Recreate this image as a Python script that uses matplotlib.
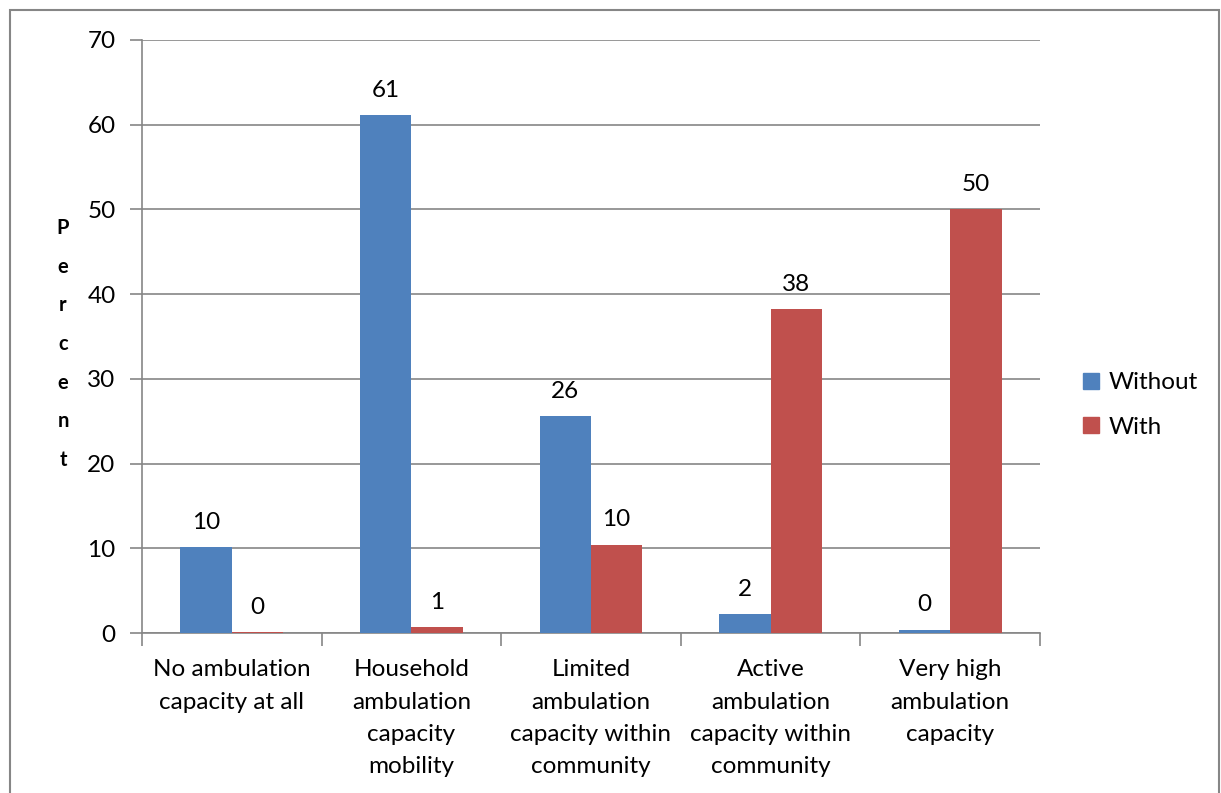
import numpy as np
import matplotlib.pyplot as plt
from matplotlib.patches import Rectangle, Patch

plt.rcParams['font.family'] = ['Lato', 'DejaVu Sans']

categories = ['No ambulation\ncapacity at all',
              'Household\nambulation\ncapacity\nmobility',
              'Limited\nambulation\ncapacity within\ncommunity',
              'Active\nambulation\ncapacity within\ncommunity',
              'Very high\nambulation\ncapacity']
without_vals = [10.1, 61.1, 25.6, 2.2, 0.4]
with_vals = [0.1, 0.7, 10.4, 38.2, 50.0]
series_names = ['Without', 'With']
colors = ['#4F81BD', '#C0504D']
grey = '#868686'
fs = 17.5

fig = plt.figure(figsize=(12.21, 7.93), dpi=100)
ax = fig.add_axes([142 / 1221, 1 - 633 / 793, 898 / 1221, 593 / 793])

x = np.arange(len(categories))
w = 1 / 3.5
b1 = ax.bar(x - w / 2, without_vals, w, color=colors[0], zorder=3)
b2 = ax.bar(x + w / 2, with_vals, w, color=colors[1], zorder=3)

for bars in (b1, b2):
    for bar in bars:
        h = bar.get_height()
        ax.text(bar.get_x() + bar.get_width() / 2, h + 1.7, f'{h:.0f}',
                ha='center', va='bottom', fontsize=fs)

ax.set_xlim(-0.5, 4.5)
ax.set_ylim(0, 70)
ax.set_yticks(range(0, 71, 10))
ax.yaxis.grid(True, color=grey, linewidth=1.2, zorder=0)
ax.tick_params(axis='y', direction='out', length=9, color=grey, width=1.2,
               labelsize=fs, pad=10)

ax.set_xticks(x)
ax.set_xticklabels(categories, fontsize=fs, linespacing=1.66)
ax.tick_params(axis='x', length=0, pad=19)
ax.set_xticks(np.arange(-0.5, 5, 1), minor=True)
ax.tick_params(axis='x', which='minor', direction='out', length=9,
               color=grey, width=1.2)

for side in ['top', 'right']:
    ax.spines[side].set_visible(False)
for side in ['left', 'bottom']:
    ax.spines[side].set_color(grey)
    ax.spines[side].set_linewidth(1.2)

fig.text(63 / 1221, 1 - 344 / 793, '\n'.join('Percent'), ha='center',
         va='center', fontsize=14.5, fontweight='bold', linespacing=2.17)

handles = [Patch(color=c) for c in colors]
fig.legend(handles, series_names, loc='center left',
           bbox_to_anchor=(1061 / 1221, 1 - 405 / 793), frameon=False,
           fontsize=fs, handlelength=0.65, handleheight=0.65,
           handletextpad=0.4, labelspacing=0.95)

fig.patches.append(Rectangle((10 / 1221, -0.02), 1209 / 1221, 0.02 + 1 - 10 / 793,
                             transform=fig.transFigure, fill=False,
                             edgecolor=grey, linewidth=1.5))

fig.savefig('out.png', dpi=100)
